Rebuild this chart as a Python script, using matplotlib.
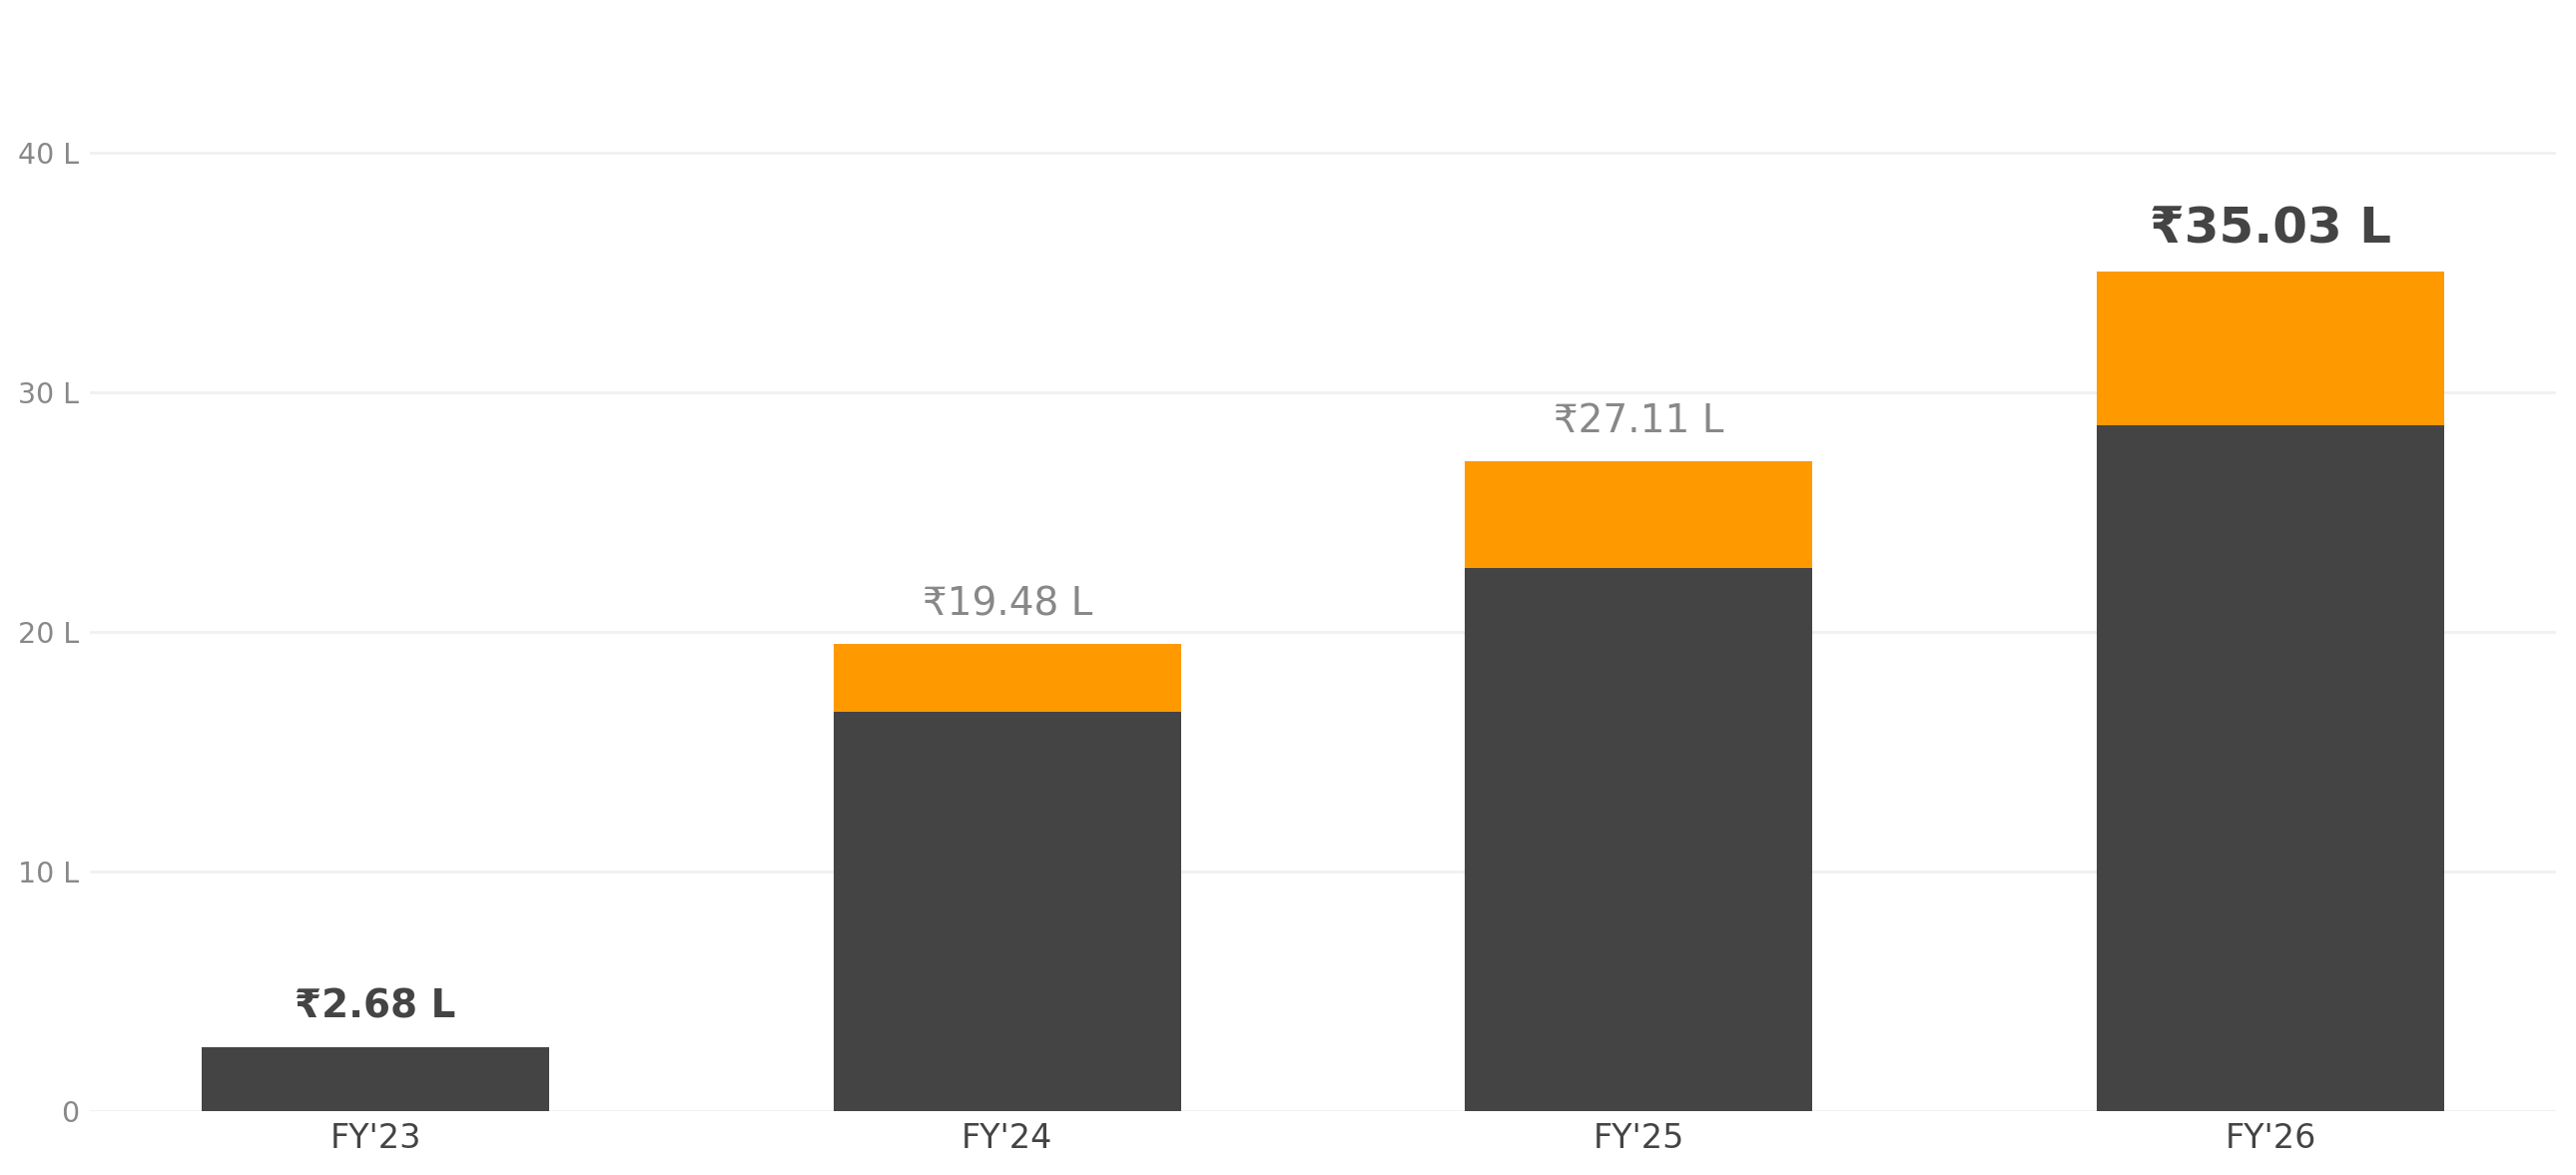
import matplotlib
matplotlib.use('Agg')
import matplotlib.pyplot as plt

# data (lakhs)
years = ["FY'23", "FY'24", "FY'25", "FY'26"]
base = [2.65, 16.68, 22.68, 28.63]
extra = [0.03, 2.80, 4.43, 6.40]
totals = [2.68, 19.48, 27.11, 35.03]
labels = ['₹2.68 L', '₹19.48 L', '₹27.11 L', '₹35.03 L']
yticks = [0, 10, 20, 30, 40]
ytick_labels = ['0', '10 L', '20 L', '30 L', '40 L']

dark = '#444444'
orange = '#FF9900'
grey = '#888888'

fig = plt.figure(figsize=(25.8, 11.77), dpi=100)
ax = fig.add_axes([0.0349, 0.0544, 0.9574, 0.9176])

x = range(len(years))
ax.bar(x, base, width=0.55, color=dark, zorder=2)
ax.bar(x, extra, width=0.55, bottom=base, color=orange, zorder=2)

# label styles: first and last bold, middle ones light
styles = [
    dict(fontsize=28, fontweight='bold', color=dark),
    dict(fontsize=28, fontweight='normal', color=grey),
    dict(fontsize=28, fontweight='normal', color=grey),
    dict(fontsize=36, fontweight='bold', color=dark),
]
for i, t in enumerate(totals):
    ax.annotate(labels[i], (i, t), xytext=(0, 21), textcoords='offset points',
                ha='center', va='baseline', **styles[i])

ax.set_xlim(-0.452, 3.452)
ax.set_ylim(0, 45)
ax.set_yticks(yticks)
ax.set_yticklabels(ytick_labels)
ax.set_xticks(list(x))
ax.set_xticklabels(years)
ax.tick_params(axis='y', length=0, pad=8, labelsize=20.5, labelcolor=grey)
ax.tick_params(axis='x', length=0, pad=8, labelsize=24, labelcolor=dark)
ax.grid(axis='y', color='#f0f0f0', linewidth=2, zorder=0)
ax.set_axisbelow(True)
for s in ax.spines.values():
    s.set_visible(False)

fig.savefig('out.png', dpi=100, facecolor='white')
